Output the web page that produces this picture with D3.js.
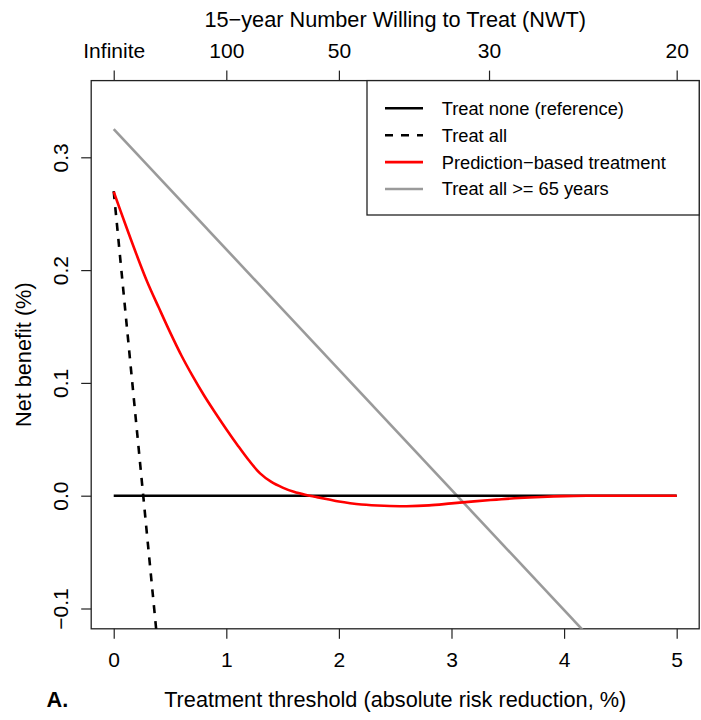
<!DOCTYPE html>
<html>
<head>
<meta charset="utf-8">
<script src="https://cdn.jsdelivr.net/npm/d3@7"></script>
<style>
  html, body { margin: 0; padding: 0; background: #fff; }
  svg { display: block; font-family: "Liberation Sans", Arial, Helvetica, sans-serif; }
</style>
</head>
<body>
<svg id="chart" width="701" height="720"></svg>
<script>
// ---- data ----
const xTicks = [0, 1, 2, 3, 4, 5];
const yTicks = [-0.1, 0.0, 0.1, 0.2, 0.3];
const nwtValues = [Infinity, 100, 50, 30, 20];
const nwtLabels = ["Infinite", "100", "50", "30", "20"];

const predX = [0, 0.1, 0.2, 0.3, 0.4, 0.5, 0.6, 0.7, 0.8, 0.9, 1.0, 1.1, 1.2, 1.3, 1.4, 1.5, 1.6, 1.7, 1.8, 1.9, 2.0, 2.1, 2.2, 2.4, 2.6, 2.8, 3.0, 3.2, 3.4, 3.6, 3.8, 4.0, 4.2, 4.5, 5.0];
const predY = [0.2695, 0.2415, 0.2145, 0.189, 0.1668, 0.145, 0.1245, 0.1062, 0.0893, 0.0738, 0.059, 0.0448, 0.0314, 0.0198, 0.0122, 0.0072, 0.0034, 0.0008, -0.0012, -0.0032, -0.0052, -0.0067, -0.0078, -0.0089, -0.0093, -0.0086, -0.0068, -0.005, -0.0035, -0.0021, -0.0011, -0.0004, -0.0001, 0, 0];

const noneX = [0, 5];
const noneY = [0, 0];
const allX = [0, 0.5];
const allY = [0.270, -0.245];
const olderX = [0, 5];
const olderY = [0.325, -0.208];

const legendLabels = ["Treat none (reference)", "Treat all", "Prediction\u2212based treatment", "Treat all >= 65 years"];

// ---- layout ----
const svg = d3.select("#chart");
const pLeft = 91.2, pRight = 699.2, pTop = 80.6, pBottom = 628.8;
const xDom = [0, 5], yDom = [-0.1, 0.35];
const xPad = (xDom[1] - xDom[0]) * 0.04, yPad = (yDom[1] - yDom[0]) * 0.04;
const x = d3.scaleLinear().domain([xDom[0] - xPad, xDom[1] + xPad]).range([pLeft, pRight]);
const y = d3.scaleLinear().domain([yDom[0] - yPad, yDom[1] + yPad]).range([pBottom, pTop]);

const tickFont = "21px";
const titleFont = "21.7px";
const axisColor = "#222";

svg.append("defs").append("clipPath").attr("id", "clip")
  .append("rect").attr("x", pLeft).attr("y", pTop).attr("width", pRight - pLeft).attr("height", pBottom - pTop);

// bottom axis
const xAxis = svg.append("g").attr("transform", `translate(0,${pBottom})`)
  .call(d3.axisBottom(x).tickValues(xTicks).tickFormat(d3.format("d")).tickSize(10).tickPadding(13));
xAxis.select(".domain").remove();
xAxis.selectAll("line").attr("stroke", axisColor).attr("stroke-width", 1.2);
xAxis.selectAll("text").attr("font-size", tickFont).attr("fill", "#000");

// top axis
const topPos = nwtValues.map(v => isFinite(v) ? 100 / v : 0);
const tAxis = svg.append("g").attr("transform", `translate(0,${pTop})`)
  .call(d3.axisTop(x).tickValues(topPos).tickFormat((d, i) => nwtLabels[i]).tickSize(10).tickPadding(13));
tAxis.select(".domain").remove();
tAxis.selectAll("line").attr("stroke", axisColor).attr("stroke-width", 1.2);
tAxis.selectAll("text").attr("font-size", tickFont).attr("fill", "#000");

// left axis with rotated labels
const yAxis = svg.append("g").attr("transform", `translate(${pLeft},0)`)
  .call(d3.axisLeft(y).tickValues(yTicks).tickFormat(d3.format(".1f")).tickSize(10));
yAxis.select(".domain").remove();
yAxis.selectAll("line").attr("stroke", axisColor).attr("stroke-width", 1.2);
yAxis.selectAll("text")
  .attr("font-size", tickFont).attr("fill", "#000")
  .attr("x", 0).attr("dy", null)
  .attr("text-anchor", "middle")
  .attr("transform", "translate(-23,0) rotate(-90)")
  .text(d => d3.format(".1f")(d).replace("-", "\u2212"));

// box
svg.append("rect").attr("x", pLeft).attr("y", pTop).attr("width", pRight - pLeft).attr("height", pBottom - pTop)
  .attr("fill", "none").attr("stroke", axisColor).attr("stroke-width", 1.3);

// titles
svg.append("text").attr("x", (pLeft + pRight) / 2).attr("y", 27).attr("text-anchor", "middle")
  .attr("font-size", titleFont).text("15\u2212year Number Willing to Treat (NWT)");
svg.append("text").attr("x", (pLeft + pRight) / 2).attr("y", 707).attr("text-anchor", "middle")
  .attr("font-size", titleFont).text("Treatment threshold (absolute risk reduction, %)");
svg.append("text").attr("transform", `translate(31,${(pTop + pBottom) / 2}) rotate(-90)`).attr("text-anchor", "middle")
  .attr("font-size", titleFont).text("Net benefit (%)");
svg.append("text").attr("x", 46.5).attr("y", 707).attr("font-size", titleFont).attr("font-weight", "bold").text("A.");

// lines
const plot = svg.append("g").attr("clip-path", "url(#clip)");
const line = d3.line().x(d => x(d[0])).y(d => y(d[1]));
const smooth = d3.line().x(d => x(d[0])).y(d => y(d[1])).curve(d3.curveCatmullRom.alpha(0.5));
const zip = (a, b) => a.map((v, i) => [v, b[i]]);

plot.append("path").datum(zip(olderX, olderY)).attr("d", line)
  .attr("fill", "none").attr("stroke", "#9a9a9a").attr("stroke-width", 2.6);
plot.append("path").datum(zip(noneX, noneY)).attr("d", line)
  .attr("fill", "none").attr("stroke", "#000").attr("stroke-width", 2.6);
plot.append("path").datum(zip(allX, allY)).attr("d", line)
  .attr("fill", "none").attr("stroke", "#000").attr("stroke-width", 2.6).attr("stroke-dasharray", "8,8");
plot.append("path").datum(zip(predX, predY)).attr("d", smooth)
  .attr("fill", "none").attr("stroke", "#ff0000").attr("stroke-width", 2.6);

// legend
const lg = svg.append("g");
const lgLeft = 367, lgTop = pTop, lgBottom = 215;
lg.append("rect").attr("x", lgLeft).attr("y", lgTop).attr("width", pRight - lgLeft).attr("height", lgBottom - lgTop)
  .attr("fill", "#fff").attr("stroke", axisColor).attr("stroke-width", 1.3);
const lgStyles = [
  { color: "#000", dash: null },
  { color: "#000", dash: "8,8" },
  { color: "#ff0000", dash: null },
  { color: "#9a9a9a", dash: null }
];
legendLabels.forEach((lab, i) => {
  const cy = 108.3 + i * 26.9;
  lg.append("line").attr("x1", 385).attr("x2", 423).attr("y1", cy).attr("y2", cy)
    .attr("stroke", lgStyles[i].color).attr("stroke-width", 2.6)
    .attr("stroke-dasharray", lgStyles[i].dash);
  lg.append("text").attr("x", 441.7).attr("y", cy).attr("dy", "0.35em")
    .attr("font-size", "18.3px").text(lab);
});
</script>
</body>
</html>
